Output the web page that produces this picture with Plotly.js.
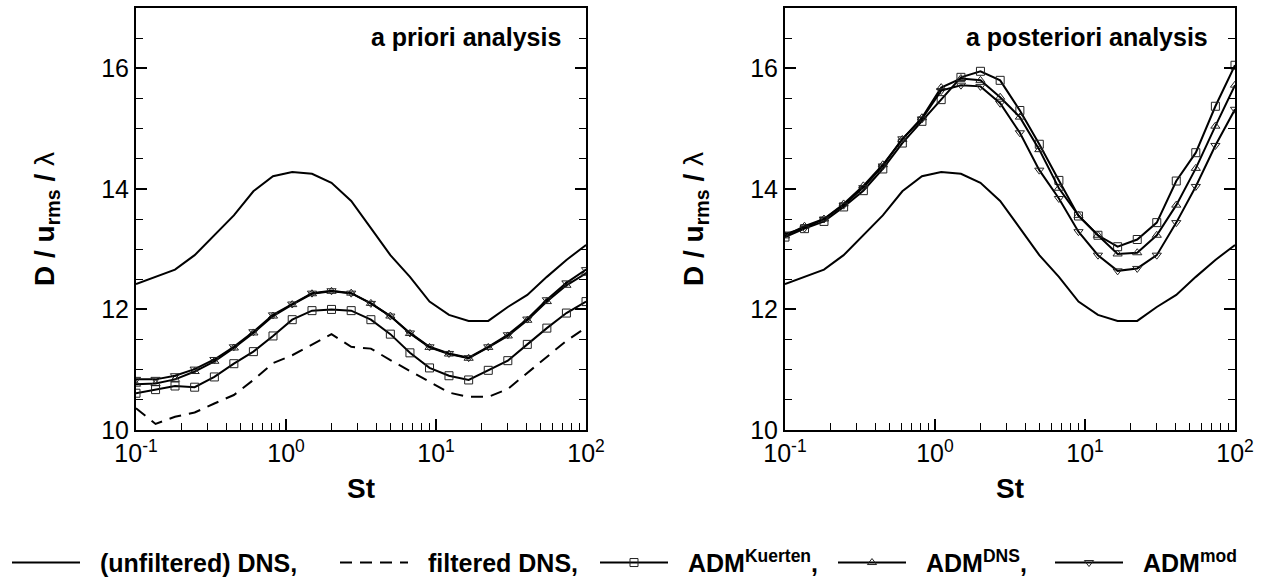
<!DOCTYPE html>
<html>
<head>
<meta charset="utf-8">
<script src="https://cdn.plot.ly/plotly-3.0.1.min.js"></script>
<style>
html,body{margin:0;padding:0;background:#fff;}
#chart{width:1267px;height:579px;}
</style>
</head>
<body>
<div id="chart"></div>
<script>
// Stokes numbers (shared sample points)
var St = [0.1, 0.135, 0.182, 0.246, 0.333, 0.449, 0.606, 0.819, 1.1, 1.49, 2.01, 2.72, 3.68, 4.96, 6.7, 9.05, 12.2, 16.5, 22.3, 30.1, 40.6, 54.8, 74, 100];

// (unfiltered) DNS - same curve in both panels
var dnsUnfiltered = [12.42, 12.54, 12.66, 12.90, 13.23, 13.56, 13.96, 14.21, 14.28, 14.25, 14.10, 13.80, 13.35, 12.90, 12.54, 12.13, 11.91, 11.81, 11.81, 12.04, 12.24, 12.54, 12.82, 13.07];

// a priori analysis (left panel)
var filteredDNS = [10.36, 10.10, 10.22, 10.29, 10.44, 10.58, 10.83, 11.11, 11.24, 11.41, 11.59, 11.38, 11.35, 11.16, 10.98, 10.80, 10.62, 10.55, 10.55, 10.68, 10.95, 11.22, 11.48, 11.70];
var aprioriKuerten = [10.61, 10.67, 10.73, 10.71, 10.88, 11.10, 11.30, 11.56, 11.83, 11.98, 12.00, 11.98, 11.83, 11.59, 11.28, 11.03, 10.90, 10.83, 10.99, 11.15, 11.42, 11.69, 11.94, 12.13];
var aprioriDNS = [10.76, 10.77, 10.84, 10.97, 11.14, 11.36, 11.61, 11.89, 12.08, 12.26, 12.30, 12.27, 12.10, 11.89, 11.60, 11.37, 11.26, 11.19, 11.37, 11.56, 11.82, 12.13, 12.40, 12.60];
var aprioriMod = [10.84, 10.84, 10.90, 11.01, 11.17, 11.38, 11.63, 11.91, 12.09, 12.27, 12.31, 12.27, 12.10, 11.89, 11.61, 11.38, 11.27, 11.20, 11.38, 11.58, 11.84, 12.16, 12.44, 12.66];

// a posteriori analysis (right panel)
var aposterioriKuerten = [13.20, 13.34, 13.46, 13.70, 13.97, 14.33, 14.76, 15.12, 15.48, 15.85, 15.95, 15.80, 15.30, 14.74, 14.14, 13.55, 13.23, 13.04, 13.16, 13.44, 14.13, 14.60, 15.37, 16.05];
var aposterioriDNS = [13.22, 13.38, 13.50, 13.75, 14.05, 14.40, 14.82, 15.18, 15.68, 15.83, 15.80, 15.52, 15.19, 14.65, 14.01, 13.56, 13.23, 12.92, 12.94, 13.23, 13.73, 14.34, 15.04, 15.72];
var aposterioriMod = [13.25, 13.35, 13.50, 13.73, 14.02, 14.38, 14.83, 15.16, 15.63, 15.72, 15.70, 15.42, 14.93, 14.31, 13.84, 13.29, 12.90, 12.64, 12.68, 12.90, 13.44, 14.04, 14.72, 15.32];

// labels
var seriesNames = ['(unfiltered) DNS,', 'filtered DNS,', 'ADM<sup>Kuerten</sup>,', 'ADM<sup>DNS</sup>,', 'ADM<sup>mod</sup>'];
var panelTitles = ['a priori analysis', 'a posteriori analysis'];
var xTitle = 'St';
var yTitle = '<b>D / u<sub>rms</sub> / </b>λ';
var xTickVals = [0.1, 1, 10, 100];
var xTickText = ['10<sup>-1</sup>', '10<sup>0</sup>', '10<sup>1</sup>', '10<sup>2</sup>'];
var xMinorVals = [0.2, 0.3, 0.4, 0.5, 0.6, 0.7, 0.8, 0.9, 2, 3, 4, 5, 6, 7, 8, 9, 20, 30, 40, 50, 60, 70, 80, 90];

var FONT = 'Liberation Sans, Arial, Helvetica, sans-serif';
var lineStyle = {color: '#000', width: 2};
function mk(sym) { return {symbol: sym, size: 8, color: '#222', line: {color: '#222', width: 1}}; }

var traces = [
  {x: St, y: dnsUnfiltered, xaxis: 'x', yaxis: 'y', mode: 'lines', line: lineStyle, name: seriesNames[0], legendgroup: 'g0', showlegend: true},
  {x: St, y: filteredDNS, xaxis: 'x', yaxis: 'y', mode: 'lines', line: {color: '#000', width: 2, dash: '12px,8px'}, name: seriesNames[1], legendgroup: 'g1', showlegend: true},
  {x: St, y: aprioriKuerten, xaxis: 'x', yaxis: 'y', mode: 'lines+markers', line: lineStyle, marker: mk('square-open'), name: seriesNames[2], legendgroup: 'g2', showlegend: true},
  {x: St, y: aprioriDNS, xaxis: 'x', yaxis: 'y', mode: 'lines+markers', line: lineStyle, marker: mk('triangle-up-open'), name: seriesNames[3], legendgroup: 'g3', showlegend: true},
  {x: St, y: aprioriMod, xaxis: 'x', yaxis: 'y', mode: 'lines+markers', line: lineStyle, marker: mk('triangle-down-open'), name: seriesNames[4], legendgroup: 'g4', showlegend: true},
  {x: St, y: dnsUnfiltered, xaxis: 'x2', yaxis: 'y2', mode: 'lines', line: lineStyle, name: seriesNames[0], legendgroup: 'g0', showlegend: false},
  {x: St, y: aposterioriKuerten, xaxis: 'x2', yaxis: 'y2', mode: 'lines+markers', line: lineStyle, marker: mk('square-open'), name: seriesNames[2], legendgroup: 'g2', showlegend: false},
  {x: St, y: aposterioriDNS, xaxis: 'x2', yaxis: 'y2', mode: 'lines+markers', line: lineStyle, marker: mk('triangle-up-open'), name: seriesNames[3], legendgroup: 'g3', showlegend: false},
  {x: St, y: aposterioriMod, xaxis: 'x2', yaxis: 'y2', mode: 'lines+markers', line: lineStyle, marker: mk('triangle-down-open'), name: seriesNames[4], legendgroup: 'g4', showlegend: false}
];

function xAxis(domain, anchor) {
  return {
    domain: domain, anchor: anchor, type: 'log', range: [-1, 2],
    tickmode: 'array', tickvals: xTickVals, ticktext: xTickText,
    showgrid: false, zeroline: false,
    showline: true, linecolor: '#000', linewidth: 2, mirror: true,
    ticks: 'inside', ticklen: 11, tickwidth: 2, tickcolor: '#000',
    minor: {ticks: 'inside', ticklen: 7, tickwidth: 1, tickcolor: '#000', tickmode: 'array', tickvals: xMinorVals, showgrid: false},
    tickfont: {family: FONT, size: 25, color: '#000'},
    title: {text: '<b>' + xTitle + '</b>', font: {family: FONT, size: 28, color: '#000'}, standoff: 12},
    automargin: false, fixedrange: true
  };
}
function yAxis(anchor) {
  return {
    domain: [0, 1], anchor: anchor, range: [10, 17], dtick: 2, tick0: 10,
    showgrid: false, zeroline: false,
    showline: true, linecolor: '#000', linewidth: 2, mirror: 'ticks',
    ticks: 'inside', ticklen: 11, tickwidth: 2, tickcolor: '#000',
    minor: {ticks: 'inside', ticklen: 7, tickwidth: 1, tickcolor: '#000', dtick: 0.5, showgrid: false},
    tickfont: {family: FONT, size: 25, color: '#000'},
    title: {text: yTitle, font: {family: FONT, size: 28, color: '#000'}, standoff: 38},
    automargin: false, fixedrange: true
  };
}

var layout = {
  width: 1267, height: 579,
  margin: {l: 136, r: 32, t: 8, b: 149},
  paper_bgcolor: '#fff', plot_bgcolor: '#fff',
  font: {family: FONT, color: '#000'},
  xaxis: xAxis([0, 0.4095], 'y'),
  yaxis: yAxis('x'),
  xaxis2: xAxis([0.5905, 1], 'y2'),
  yaxis2: yAxis('x2'),
  showlegend: true,
  legend: {
    orientation: 'h', xref: 'paper', x: 0.4445, xanchor: 'center',
    yref: 'container', y: 0.028, yanchor: 'middle',
    font: {family: FONT, size: 25, color: '#000', weight: 'bold'},
    itemwidth: 30, bgcolor: 'rgba(0,0,0,0)', traceorder: 'normal', itemclick: false, itemdoubleclick: false
  },
  annotations: [
    {xref: 'x domain', yref: 'y domain', x: 0.949, y: 0.931, xanchor: 'right', yanchor: 'middle', showarrow: false,
     text: '<b>' + panelTitles[0] + '</b>', font: {family: FONT, size: 25, color: '#000'}},
    {xref: 'x2 domain', yref: 'y2 domain', x: 0.944, y: 0.931, xanchor: 'right', yanchor: 'middle', showarrow: false,
     text: '<b>' + panelTitles[1] + '</b>', font: {family: FONT, size: 25, color: '#000'}}
  ]
};

// Legend layout as in the reference: long sample lines, entries spread over one row
var legendStarts = [12, 340, 600, 838, 1055];
function arrangeLegend(gd) {
  var L = 68, textOff = 88;
  gd.querySelectorAll('.legend .scrollbox').forEach(function (s) { s.removeAttribute('clip-path'); });
  var items = gd.querySelectorAll('.legend .traces');
  items.forEach(function (t, i) {
    t.querySelectorAll('.legendlines path').forEach(function (p) { p.setAttribute('d', 'M5,0h' + L); });
    t.querySelectorAll('.legendsymbols path.scatterpts').forEach(function (p) {
      p.setAttribute('transform', 'translate(' + (5 + L / 2) + ',0)');
    });
    var txt = t.querySelector('text.legendtext');
    if (txt) txt.setAttribute('x', 5 + textOff);
    if (i < legendStarts.length) {
      var tr = t.getAttribute('transform') || '';
      var m = /translate\(\s*([-\d.e]+)[ ,]+([-\d.e]+)\s*\)/.exec(tr);
      var tx = m ? parseFloat(m[1]) : 0, ty = m ? parseFloat(m[2]) : 0;
      var ctm = t.getCTM();
      var absX = ctm ? ctm.e : tx;
      t.setAttribute('transform', 'translate(' + (tx + (legendStarts[i] - 5) - absX) + ',' + ty + ')');
    }
  });
}

var gd = document.getElementById('chart');
Plotly.newPlot(gd, traces, layout, {displayModeBar: false, staticPlot: true}).then(function () {
  arrangeLegend(gd);
});
</script>
</body>
</html>
